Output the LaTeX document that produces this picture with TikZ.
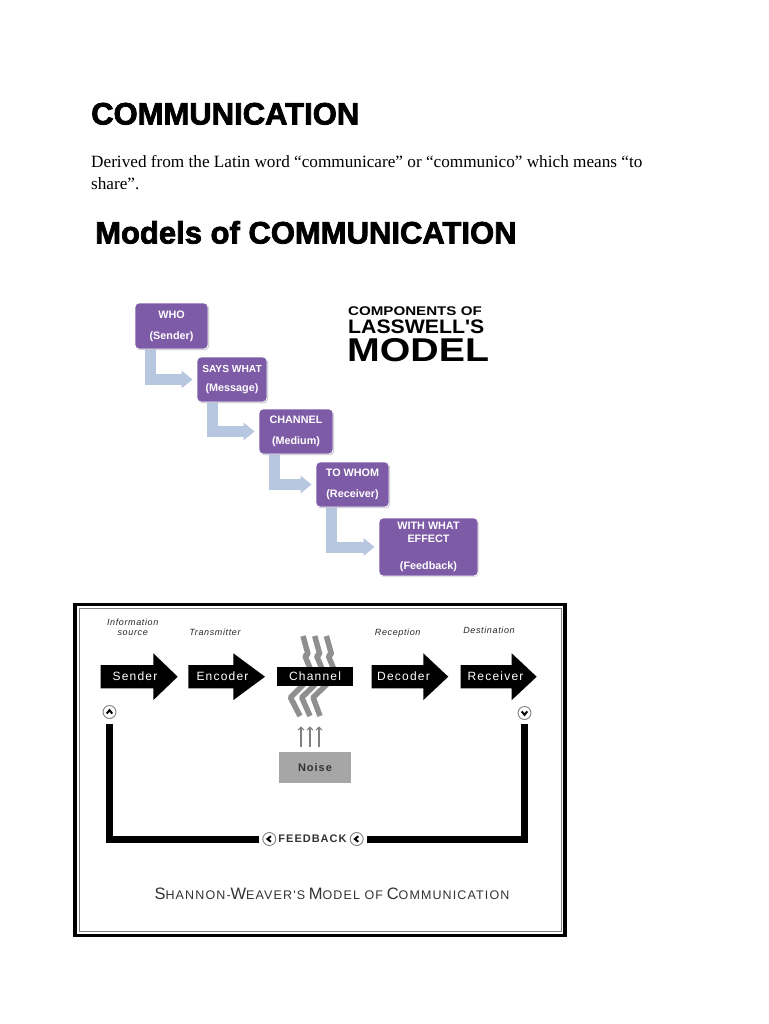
\documentclass[tikz,border=0pt]{standalone}
\usepackage{fontspec}
\setmainfont{Liberation Serif}
\setsansfont{Liberation Sans}
\usetikzlibrary{arrows.meta,shadows,calc}
\newfontfamily\heavyfont{Liberation Sans Bold}[FakeBold=2.5]
\newfontfamily\lwA{Liberation Sans Bold}[FakeStretch=1.2]
\newfontfamily\lwB{Liberation Sans Bold}[FakeStretch=1.09]
\newfontfamily\lwC{Liberation Sans Bold}[FakeStretch=1.19]
\newfontfamily\spacedsf{Liberation Sans}[LetterSpace=10]
\newfontfamily\spacedit{Liberation Sans Italic}[LetterSpace=7]
\newfontfamily\spacedbf{Liberation Sans Bold}[LetterSpace=9]
\newfontfamily\swfont{Liberation Sans}[LetterSpace=9]
\newcommand\bigsc[1]{{\fontsize{16.5}{16.5}\selectfont #1}}
\newcommand\smallsc[1]{{\fontsize{12.5}{12.5}\selectfont #1}}
\definecolor{purp}{HTML}{7D5BA6}
\definecolor{lblue}{HTML}{B7C7DF}
\definecolor{noisegray}{HTML}{A6A6A6}
\definecolor{boltgray}{HTML}{8F8F8F}
\tikzset{
  lbox/.style={rounded corners=4pt, fill=purp, draw=white, line width=0.8pt, text=white,
    font=\sffamily\bfseries\fontsize{10.8}{21}\selectfont, align=center, inner sep=0pt,
    drop shadow={opacity=0.25, shadow xshift=1pt, shadow yshift=-1.2pt}},
  elbow/.style={draw=lblue, line width=11pt, shorten >=4pt, -{Triangle[width=17pt,length=11pt]}},
  slabel/.style={text=white, font=\spacedsf\fontsize{12}{12}\selectfont, inner sep=0pt},
  ilabel/.style={font=\spacedit\fontsize{9}{10.5}\selectfont, align=center, inner sep=0pt, text=black!85},
  bolt/.style={draw=boltgray, line width=5.5pt, line join=bevel},
  upar/.style={draw=gray, line width=1.1pt, -{Straight Barb[length=3pt,width=6pt]}},
  fbline/.style={line width=7pt, black, line join=miter},
  ccirc/.style={circle, draw=gray, fill=white, line width=0.9pt, minimum size=13pt, inner sep=0pt},
  chev/.style={line width=2pt, black, line join=miter},
}
\begin{document}
\begin{tikzpicture}[x=1pt,y=-1pt]
\useasboundingbox[fill=white] (0,0) rectangle (768,1024);

% headings and text
\node[anchor=base west, inner sep=0pt] (t1) at (91,124.5) {\fontsize{31}{31}\heavyfont COMMUNICATION};
\node[anchor=base west, inner sep=0pt, align=left, font=\fontsize{17.2}{22.7}\selectfont] (deriv) at (91,190)
  {Derived from the Latin word “communicare” or “communico” which means “to\\share”.};
\node[anchor=base west, inner sep=0pt] (t2) at (95,243.5) {\fontsize{31}{31}\heavyfont Models of COMMUNICATION};

% Lasswell title
\node[anchor=base west, inner sep=0pt] (lw1) at (348,315) {\lwA\fontsize{12.6}{12.6}\selectfont COMPONENTS OF};
\node[anchor=base west, inner sep=0pt] (lw2) at (348,333.3) {\lwB\fontsize{19.5}{19.5}\selectfont LASSWELL'S};
\node[anchor=base west, inner sep=0pt] (lw3) at (347,361.7) {\lwC\fontsize{33}{33}\selectfont MODEL};

% Lasswell boxes
\path (171.5,326) coordinate (cwho) (232,379.5) coordinate (csays) (296,431.5) coordinate (cchan)
      (352.5,484.5) coordinate (cwhom) (428.5,547) coordinate (ceff);
\node[lbox, minimum width=73pt, minimum height=46pt] (lwho) at (cwho) {WHO\\(Sender)};
\node[lbox, minimum width=70pt, minimum height=45pt] (lsays) at (csays) {{\fontsize{10.2}{21}\selectfont SAYS WHAT}\\[-2pt](Message)};
\node[lbox, minimum width=74pt, minimum height=45pt] (lchan) at (cchan) {CHANNEL\\(Medium)};
\node[lbox, minimum width=73pt, minimum height=45pt] (lwhom) at (cwhom) {TO WHOM\\(Receiver)};
\node[lbox, minimum width=99pt, minimum height=58pt] (leff) at (ceff) {WITH WHAT\\[-8pt]EFFECT\\[6pt](Feedback)};
\draw[elbow] ([xshift=16pt]lwho.south west) ++(0,-3) |- (lsays.west);
\draw[elbow] ([xshift=16pt]lsays.south west) ++(0,-3) |- (lchan.west);
\draw[elbow] ([xshift=16pt]lchan.south west) ++(0,-3) |- (lwhom.west);
\draw[elbow] ([xshift=16pt]lwhom.south west) ++(0,-3) |- (leff.west);
% boxes again on top of the elbows' tails
\node[lbox, minimum width=73pt, minimum height=46pt] at (cwho) {WHO\\(Sender)};
\node[lbox, minimum width=70pt, minimum height=45pt] at (csays) {{\fontsize{10.2}{21}\selectfont SAYS WHAT}\\[-2pt](Message)};
\node[lbox, minimum width=74pt, minimum height=45pt] at (cchan) {CHANNEL\\(Medium)};
\node[lbox, minimum width=73pt, minimum height=45pt] at (cwhom) {TO WHOM\\(Receiver)};

% Shannon-Weaver frame
\draw[line width=3.5pt] (75,604.5) rectangle (565,935.5);
\draw[gray, line width=1pt] (79.5,608.5) rectangle (561,931.5);

% bolts (drawn under channel box)
\foreach \i in {0,1,2}{
  \draw[bolt] ({303+11.7*\i},636) -- ({308+11.7*\i},654) -- ({305+11.7*\i},656) -- ({310+11.7*\i},668);
  \draw[bolt] ({306+11.6*\i},682) -- ({290.5+11.3*\i},697.5) -- ({300+10*\i},716);
}

% block arrows
\foreach \a/\h/\t in {100.7/153.3/177.7, 188.3/233.3/265, 371.7/423.3/448.3, 460.7/511.7/536.7}{
  \fill (\a,665) -- (\h,665) -- (\h,653.3) -- (\t,676.7) -- (\h,700.1) -- (\h,688.3) -- (\a,688.3) -- cycle;
}
\node[slabel] (sender) at (135,676.7) {Sender};
\node[slabel] (encoder) at (222.5,676.7) {Encoder};
\node[slabel, fill=black, minimum width=76.6pt, minimum height=19.3pt] (chn) at (315,676.4) {Channel};
\node[slabel] (decoder) at (403.5,676.7) {Decoder};
\node[slabel] (receiver) at (495.5,676.7) {Receiver};

% italic labels
\node[ilabel, anchor=base] (info) at (132.7,635.5) {Information\\source};
\node[ilabel, anchor=base] (trans) at (215,635.5) {Transmitter};
\node[ilabel, anchor=base] (recep) at (397.7,635.5) {Reception};
\node[ilabel, anchor=base] (dest) at (489,633.5) {Destination};

% noise
\node[fill=noisegray, minimum width=72pt, minimum height=31pt, inner sep=0pt,
  font=\spacedbf\fontsize{11}{11}\selectfont, text=black!80] (noise) at (315,767.5) {Noise};
\draw[upar, shorten <=5pt, shorten >=40pt] ([xshift=-14pt]noise.north) -- ([xshift=-14pt]chn.south);
\draw[upar, shorten <=5pt, shorten >=40pt] ([xshift=-5pt]noise.north) -- ([xshift=-5pt]chn.south);
\draw[upar, shorten <=5pt, shorten >=40pt] ([xshift=4pt]noise.north) -- ([xshift=4pt]chn.south);

% feedback loop
\node[ccirc] (lc) at (109.5,712) {};
\node[ccirc] (rc) at (524.5,713) {};
\node[ccirc] (fbl) at (269.3,839) {};
\node[ccirc] (fbr) at (356.7,839) {};
\node[inner sep=0pt, font=\spacedbf\fontsize{11}{11}\selectfont, text=black!80] (fbt) at (312.5,839) {FEEDBACK};
\draw[fbline, shorten <=4pt, shorten >=3pt] (rc.south) |- (fbr.east);
\draw[fbline, shorten <=3pt, shorten >=5pt] (fbl.west) -| (lc.south);
\draw[chev] ([shift={(-2.8,1.6)}]lc.center) -- ([shift={(0,-1.8)}]lc.center) -- ([shift={(2.8,1.6)}]lc.center);
\draw[chev] ([shift={(-2.8,-1.6)}]rc.center) -- ([shift={(0,1.8)}]rc.center) -- ([shift={(2.8,-1.6)}]rc.center);
\draw[chev] ([shift={(1.6,-2.8)}]fbl.center) -- ([shift={(-1.8,0)}]fbl.center) -- ([shift={(1.6,2.8)}]fbl.center);
\draw[chev] ([shift={(1.6,-2.8)}]fbr.center) -- ([shift={(-1.8,0)}]fbr.center) -- ([shift={(1.6,2.8)}]fbr.center);

% title
\node[anchor=base, inner sep=0pt, text=black!80] (swt) at (332,899) {\swfont
  \bigsc{S}\smallsc{HANNON-}\bigsc{W}\smallsc{EAVER'S} \bigsc{M}\smallsc{ODEL OF} \bigsc{C}\smallsc{OMMUNICATION}};
\end{tikzpicture}
\end{document}
